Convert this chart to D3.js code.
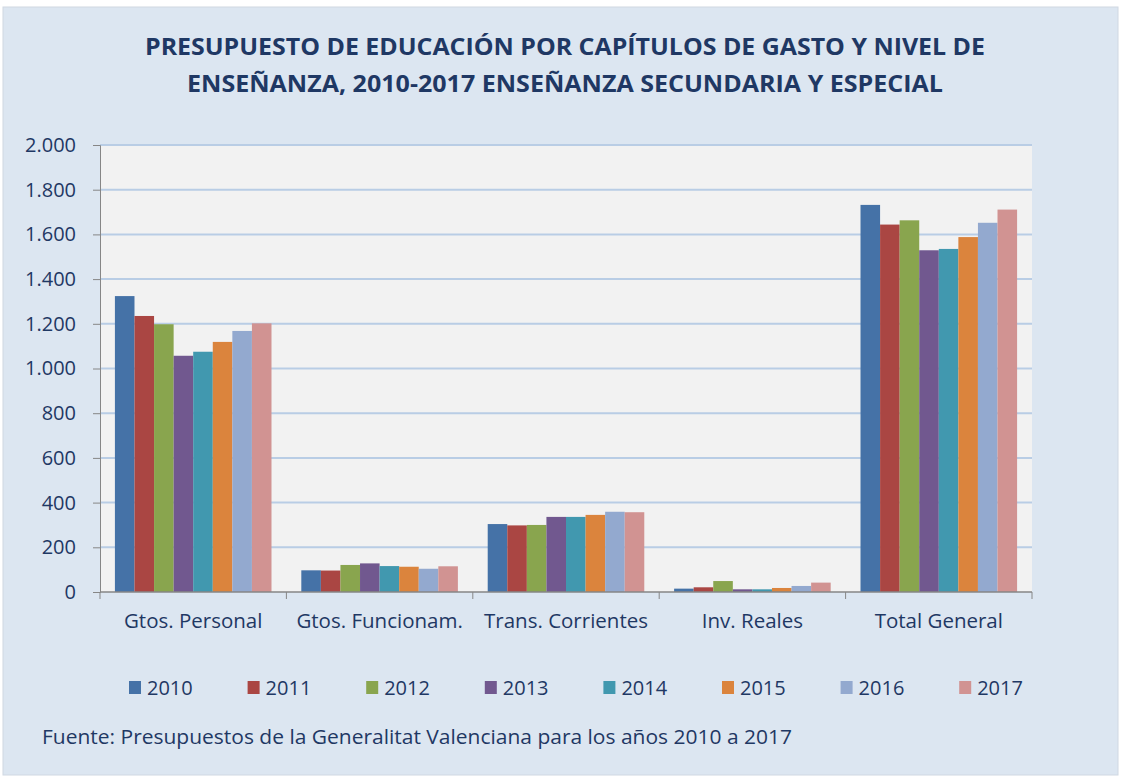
<!DOCTYPE html>
<html><head><meta charset="utf-8">
<script src="https://cdn.jsdelivr.net/npm/d3@7"></script>
<style>body{margin:0;background:#fff;font-family:"Open Sans",sans-serif;}</style>
</head><body>
<svg id="c" width="1121" height="778"></svg>
<script>
const categories = ["Gtos. Personal","Gtos. Funcionam.","Trans. Corrientes","Inv. Reales","Total General"];
const years = ["2010","2011","2012","2013","2014","2015","2016","2017"];
const v2010 = [1324, 97, 304, 15, 1732];
const v2011 = [1235, 96, 298, 21, 1644];
const v2012 = [1198, 121, 300, 49, 1663];
const v2013 = [1057, 128, 336, 12, 1529];
const v2014 = [1075, 116, 336, 12, 1535];
const v2015 = [1119, 113, 345, 18, 1588];
const v2016 = [1168, 104, 359, 27, 1652];
const v2017 = [1202, 115, 357, 42, 1711];
const series = [v2010,v2011,v2012,v2013,v2014,v2015,v2016,v2017];
const yTicks = [0,200,400,600,800,1000,1200,1400,1600,1800,2000];
const colors = ["#4572a7","#aa4643","#89a54e","#71588f","#4198af","#db843d","#93a9cf","#d19392"];

const FONT = "'Open Sans',sans-serif";
const svg = d3.select("#c").attr("font-family",FONT);
svg.append("rect").attr("x",3).attr("y",7).attr("width",1115).attr("height",768).attr("fill","#dce6f1").attr("stroke","#d0d8e2");

const L=100,R=1032,T=145,B=592;
svg.append("rect").attr("x",L).attr("y",T).attr("width",R-L).attr("height",B-T).attr("fill","#f2f2f2");

const t1 = svg.append("text").attr("x",565).attr("y",55).attr("text-anchor","middle").attr("font-size",24).attr("font-weight","bold").attr("fill","#1f3864").text("PRESUPUESTO DE EDUCACIÓN POR CAPÍTULOS DE GASTO Y NIVEL DE");
const t2 = svg.append("text").attr("x",565).attr("y",92).attr("text-anchor","middle").attr("font-size",24).attr("font-weight","bold").attr("fill","#1f3864").text("ENSEÑANZA, 2010-2017 ENSEÑANZA SECUNDARIA Y ESPECIAL");
t1.attr("textLength",840).attr("lengthAdjust","spacingAndGlyphs");
t2.attr("textLength",756).attr("lengthAdjust","spacingAndGlyphs");

const y = d3.scaleLinear().domain([0,2000]).range([B,T]);
const x0 = d3.scaleBand().domain(categories).range([L,R]).paddingInner(0.16).paddingOuter(0.08);
const x1 = d3.scaleBand().domain(years).range([0,x0.bandwidth()]);

svg.append("g").selectAll("line").data(yTicks.filter(d=>d>0)).join("line")
  .attr("x1",L).attr("x2",R).attr("y1",d=>y(d)).attr("y2",d=>y(d))
  .attr("stroke","#b9cde5").attr("stroke-width",2);

categories.forEach((c,ci)=>{
  const g = svg.append("g").attr("transform",`translate(${x0(c)},0)`);
  g.selectAll("rect").data(years.map((yr,i)=>({yr,v:series[i][ci],i}))).join("rect")
    .attr("x",d=>x1(d.yr)).attr("width",x1.bandwidth())
    .attr("y",d=>y(d.v)).attr("height",d=>B-y(d.v))
    .attr("fill",d=>colors[d.i]);
});

const ya = svg.append("g").attr("transform",`translate(${L},0)`)
  .call(d3.axisLeft(y).tickValues(yTicks).tickSize(7).tickPadding(17).tickFormat(d=>d3.format(",")(d).replace(/,/g,".")));
ya.select(".domain").attr("stroke","#868686");
ya.selectAll(".tick line").attr("stroke","#868686");
ya.selectAll("text").attr("font-size",20).attr("fill","#1f3864").attr("font-family",FONT);

const step = (R-L)/categories.length;
svg.append("line").attr("x1",L).attr("x2",R).attr("y1",B).attr("y2",B).attr("stroke","#868686").attr("stroke-width",1.5);
svg.append("g").selectAll("line").data(d3.range(categories.length+1)).join("line")
  .attr("x1",i=>L+i*step).attr("x2",i=>L+i*step).attr("y1",B).attr("y2",B+7).attr("stroke","#868686");
svg.append("g").selectAll("text").data(categories).join("text")
  .attr("x",c=>x0(c)+x0.bandwidth()/2).attr("y",628).attr("text-anchor","middle")
  .attr("font-size",20.5).attr("fill","#1f3864").text(c=>c);

const lg = svg.append("g");
years.forEach((yr,i)=>{
  const lx = 129 + i*118.6;
  lg.append("rect").attr("x",lx).attr("y",681).attr("width",12).attr("height",13).attr("fill",colors[i]);
  lg.append("text").attr("x",lx+18).attr("y",695).attr("font-size",20).attr("fill","#1f3864").text(yr);
});

svg.append("text").attr("x",42).attr("y",744).attr("font-size",20).attr("fill","#1f3864")
  .attr("textLength",750).attr("lengthAdjust","spacingAndGlyphs")
  .text("Fuente: Presupuestos de la Generalitat Valenciana para los años 2010 a 2017");
</script>
</body></html>
